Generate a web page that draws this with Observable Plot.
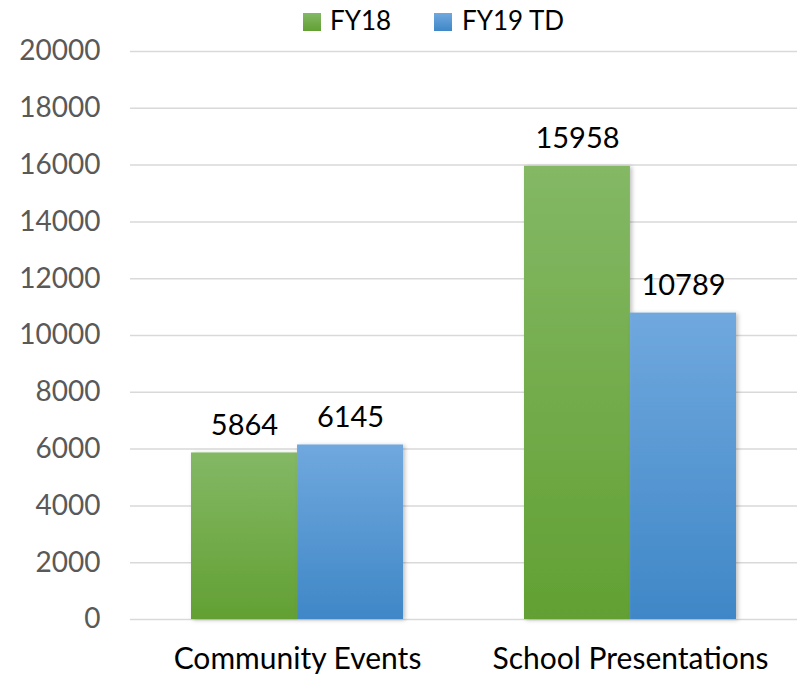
<!DOCTYPE html>
<html><head><meta charset="utf-8">
<script src="https://cdn.jsdelivr.net/npm/d3@7"></script>
<script src="https://cdn.jsdelivr.net/npm/@observablehq/plot@0.6"></script>
<style>
body{margin:0;background:#fff;font-family:Lato,"Open Sans",sans-serif;}
#legend{position:relative;height:40px;width:800px;}
#legend .sw{position:absolute;top:13px;width:18px;height:18px;}
#legend .lb{position:absolute;top:7px;font-size:26px;line-height:26px;color:#000;white-space:nowrap;}
</style></head>
<body>
<div id="legend"></div>
<div id="chart"></div>
<script>
const categories = ["Community Events", "School Presentations"];
const seriesNames = ["FY18", "FY19 TD"];
const fy18 = [5864, 15958];
const fy19 = [6145, 10789];
const yTicks = [0, 2000, 4000, 6000, 8000, 10000, 12000, 14000, 16000, 18000, 20000];
const gradTop = {"FY18": "#84b865", "FY19 TD": "#70a8de"};
const gradBottom = {"FY18": "#62a033", "FY19 TD": "#3f87c7"};
const gradId = {"FY18": "gGreen", "FY19 TD": "gBlue"};

const rows = [];
categories.forEach((c, i) => {
  rows.push({category: c, series: seriesNames[0], value: fy18[i]});
  rows.push({category: c, series: seriesNames[1], value: fy19[i]});
});

const W = 800, H = 636, ML = 130, MR = 3, MT = 11, MB = 57;
const pInner = 0.364, pOuter = 0.182;
const step = (W - ML - MR) / (categories.length - pInner + 2 * pOuter);
const bw = step * (1 - pInner);

// legend
const legend = document.getElementById("legend");
const legendPos = [{sw: 303, lb: 330}, {sw: 434, lb: 462}];
seriesNames.forEach((s, i) => {
  const sw = document.createElement("div");
  sw.className = "sw";
  sw.style.left = legendPos[i].sw + "px";
  sw.style.background = `linear-gradient(${gradTop[s]}, ${gradBottom[s]})`;
  legend.appendChild(sw);
  const lb = document.createElement("div");
  lb.className = "lb";
  lb.style.left = legendPos[i].lb + "px";
  lb.textContent = s;
  legend.appendChild(lb);
});

const s0 = seriesNames[0], s1 = seriesNames[1];
const plot = Plot.plot({
  width: W, height: H,
  marginLeft: ML, marginRight: MR, marginTop: MT, marginBottom: MB,
  style: {fontFamily: "Lato, 'Open Sans', sans-serif", fontSize: "28px", background: "#fff", overflow: "visible"},
  x: {domain: categories, paddingInner: pInner, paddingOuter: pOuter, label: null},
  y: {domain: [0, 20000], label: null},
  marks: [
    Plot.gridY(yTicks, {stroke: "#d9d9d9", strokeOpacity: 1, strokeWidth: 1.5}),
    Plot.axisY(yTicks, {tickSize: 0, tickPadding: 30, fill: "#595959", fontSize: 28, tickFormat: d => String(d), label: null}),
    Plot.axisX({tickSize: 0, tickPadding: 28, fill: "#000", fontSize: 30, label: null}),
    Plot.barY(rows.filter(d => d.series === s0), {x: "category", y: "value", fill: `url(#${gradId[s0]})`, insetRight: bw / 2}),
    Plot.barY(rows.filter(d => d.series === s1), {x: "category", y: "value", fill: `url(#${gradId[s1]})`, insetLeft: bw / 2}),
    Plot.text(rows.filter(d => d.series === s0), {x: "category", y: "value", text: d => String(d.value), dx: -bw / 4, dy: -18, lineAnchor: "bottom", fill: "#000", fontSize: 29}),
    Plot.text(rows.filter(d => d.series === s1), {x: "category", y: "value", text: d => String(d.value), dx: bw / 4, dy: -18, lineAnchor: "bottom", fill: "#000", fontSize: 29})
  ]
});

// gradient + shadow defs
const svg = d3.select(plot);
const defs = svg.insert("defs", ":first-child");
seriesNames.forEach(s => {
  const g = defs.append("linearGradient").attr("id", gradId[s]).attr("x1", 0).attr("y1", 0).attr("x2", 0).attr("y2", 1);
  g.append("stop").attr("offset", "0%").attr("stop-color", gradTop[s]);
  g.append("stop").attr("offset", "100%").attr("stop-color", gradBottom[s]);
});
const f = defs.append("filter").attr("id", "shadow").attr("x", "-10%").attr("y", "-10%").attr("width", "130%").attr("height", "130%");
f.append("feDropShadow").attr("dx", 2).attr("dy", 1).attr("stdDeviation", 2).attr("flood-color", "#000").attr("flood-opacity", 0.25);
svg.selectAll("g[aria-label='bar']").attr("filter", "url(#shadow)");

document.getElementById("chart").appendChild(plot);
</script>
</body></html>
